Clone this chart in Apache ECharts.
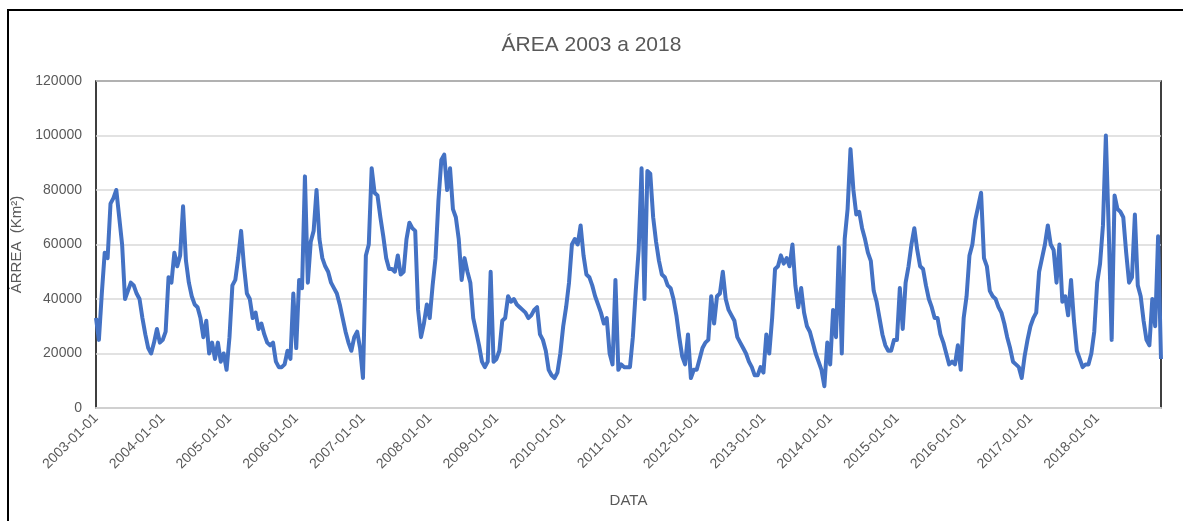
<!DOCTYPE html>
<html>
<head>
<meta charset="utf-8">
<title>ÁREA 2003 a 2018</title>
<script src="https://cdn.jsdelivr.net/npm/echarts@6/dist/echarts.min.js"></script>
<style>
    html, body { margin: 0; padding: 0; background: #fff; }
    #main { position: absolute; left: 0; top: 0; width: 1183px; height: 521px; }
    #frame { position: absolute; left: 7px; top: 9px; width: 1200px; height: 600px;
             border-left: 2px solid #000; border-top: 2px solid #000; pointer-events: none; }
</style>
</head>
<body>
<div id="main"></div>
<div id="frame"></div>
<script>
// 16-day values (km²), one array per year
var area2003 = [33000, 25000, 42000, 57000, 55000, 75000, 77000, 80000, 70000, 60000, 40000, 43000, 46000, 45000, 42000, 40000, 33000, 27000, 22000, 20000, 24000, 29000, 24000];
var area2004 = [25000, 28000, 48000, 46000, 57000, 52000, 56000, 74000, 54000, 46000, 41000, 38000, 37000, 33000, 26000, 32000, 20000, 24000, 18000, 24000, 17000, 20000, 14000];
var area2005 = [26000, 45000, 47000, 55000, 65000, 52000, 42000, 40000, 33000, 35000, 29000, 31000, 27000, 24000, 23000, 24000, 17000, 15000, 15000, 16000, 21000, 18000, 42000];
var area2006 = [22000, 47000, 44000, 85000, 46000, 61000, 65000, 80000, 62000, 55000, 52000, 50000, 46000, 44000, 42000, 38000, 33000, 28000, 24000, 21000, 26000, 28000, 22000];
var area2007 = [11000, 56000, 60000, 88000, 79000, 78000, 70000, 63000, 55000, 51000, 51000, 50000, 56000, 49000, 50000, 62000, 68000, 66000, 65000, 36000, 26000, 31000, 38000];
var area2008 = [33000, 45000, 55000, 76000, 91000, 93000, 80000, 88000, 73000, 70000, 62000, 47000, 55000, 50000, 46000, 33000, 28000, 23000, 17000, 15000, 17000, 50000, 17000];
var area2009 = [18000, 21000, 32000, 33000, 41000, 39000, 40000, 38000, 37000, 36000, 35000, 33000, 34000, 36000, 37000, 27000, 25000, 21000, 14000, 12000, 11000, 13000, 20000];
var area2010 = [30000, 37000, 46000, 60000, 62000, 60000, 67000, 56000, 49000, 48000, 45000, 41000, 38000, 35000, 31000, 33000, 20000, 16000, 47000, 14000, 16000, 15000, 15000];
var area2011 = [15000, 26000, 43000, 58000, 88000, 40000, 87000, 86000, 70000, 61000, 54000, 49000, 48000, 45000, 44000, 40000, 34000, 26000, 19000, 16000, 27000, 11000, 14000];
var area2012 = [14000, 18000, 22000, 24000, 25000, 41000, 31000, 41000, 42000, 50000, 40000, 36000, 34000, 32000, 26000, 24000, 22000, 20000, 17000, 15000, 12000, 12000, 15000];
var area2013 = [13000, 27000, 20000, 33000, 51000, 52000, 56000, 53000, 55000, 52000, 60000, 45000, 37000, 44000, 35000, 30000, 28000, 24000, 20000, 17000, 14000, 8000, 24000];
var area2014 = [16000, 36000, 26000, 59000, 20000, 62000, 73000, 95000, 80000, 71000, 72000, 66000, 62000, 57000, 54000, 43000, 39000, 33000, 27000, 23000, 21000, 21000, 25000];
var area2015 = [25000, 44000, 29000, 46000, 52000, 60000, 66000, 58000, 52000, 51000, 45000, 40000, 37000, 33000, 33000, 27000, 24000, 20000, 16000, 17000, 16000, 23000, 14000];
var area2016 = [33000, 41000, 56000, 60000, 69000, 74000, 79000, 55000, 52000, 43000, 41000, 40000, 37000, 35000, 31000, 26000, 22000, 17000, 16000, 15000, 11000, 19000, 25000];
var area2017 = [30000, 33000, 35000, 50000, 55000, 60000, 67000, 60000, 58000, 46000, 60000, 39000, 41000, 34000, 47000, 32000, 21000, 18000, 15000, 16000, 16000, 20000, 28000];
var area2018 = [46000, 53000, 67000, 100000, 65000, 25000, 78000, 73000, 72000, 70000, 57000, 46000, 48000, 71000, 45000, 41000, 32000, 25000, 23000, 40000, 30000, 63000, 18000];

var years = [2003, 2004, 2005, 2006, 2007, 2008, 2009, 2010, 2011, 2012, 2013, 2014, 2015, 2016, 2017, 2018];
var yearValues = [area2003, area2004, area2005, area2006, area2007, area2008, area2009, area2010,
                  area2011, area2012, area2013, area2014, area2015, area2016, area2017, area2018];
var stepDays = 16;

function pad(n) { return n < 10 ? '0' + n : '' + n; }

var dates = [], values = [];
years.forEach(function (y, k) {
    yearValues[k].forEach(function (v, i) {
        var d = new Date(Date.UTC(y, 0, 1 + i * stepDays));
        dates.push(d.getUTCFullYear() + '-' + pad(d.getUTCMonth() + 1) + '-' + pad(d.getUTCDate()));
        values.push(v);
    });
});

var chartDom = document.getElementById('main');
var myChart = echarts.init(chartDom);
var option;
var font = '"Liberation Sans", Arial, sans-serif';

option = {
    animation: false,
    backgroundColor: '#fff',
    title: {
        text: 'ÁREA 2003 a 2018',
        left: 'center',
        top: 30,
        textStyle: { color: '#595959', fontSize: 21, fontWeight: 'normal', fontFamily: font }
    },
    grid: {
        left: 96, right: 22, top: 81, bottom: 113,
        show: true,
        borderColor: '#000',
        borderWidth: 1.5,
        backgroundColor: '#fff'
    },
    xAxis: {
        type: 'category',
        data: dates,
        boundaryGap: false,
        name: 'DATA',
        nameLocation: 'middle',
        nameGap: 85,
        nameTextStyle: { color: '#595959', fontSize: 15, fontFamily: font },
        axisLine: { lineStyle: { color: '#d0d0d0', width: 2 } },
        axisTick: { show: false },
        axisLabel: {
            interval: function (idx, val) { return /-01-01$/.test(val); },
            rotate: 45,
            margin: 8,
            color: '#595959',
            fontSize: 14,
            fontFamily: font
        },
        splitLine: { show: false }
    },
    yAxis: {
        type: 'value',
        min: 0,
        max: 120000,
        interval: 20000,
        name: 'ÁRREA  (Km²)',
        nameLocation: 'middle',
        nameGap: 64,
        nameTextStyle: { color: '#595959', fontSize: 15, fontFamily: font },
        axisLine: { show: false },
        axisTick: { show: false },
        axisLabel: {
            color: '#595959', fontSize: 14, margin: 14, fontFamily: font,
            formatter: function (v) { return String(v); }
        },
        splitLine: { lineStyle: { color: '#d9d9d9', width: 1.5 } }
    },
    series: [{
        name: 'ÁREA',
        type: 'line',
        data: values,
        showSymbol: false,
        symbol: 'none',
        lineStyle: { color: '#4472C4', width: 4, join: 'round' },
        itemStyle: { color: '#4472C4' }
    }]
};

option && myChart.setOption(option);
</script>
</body>
</html>
